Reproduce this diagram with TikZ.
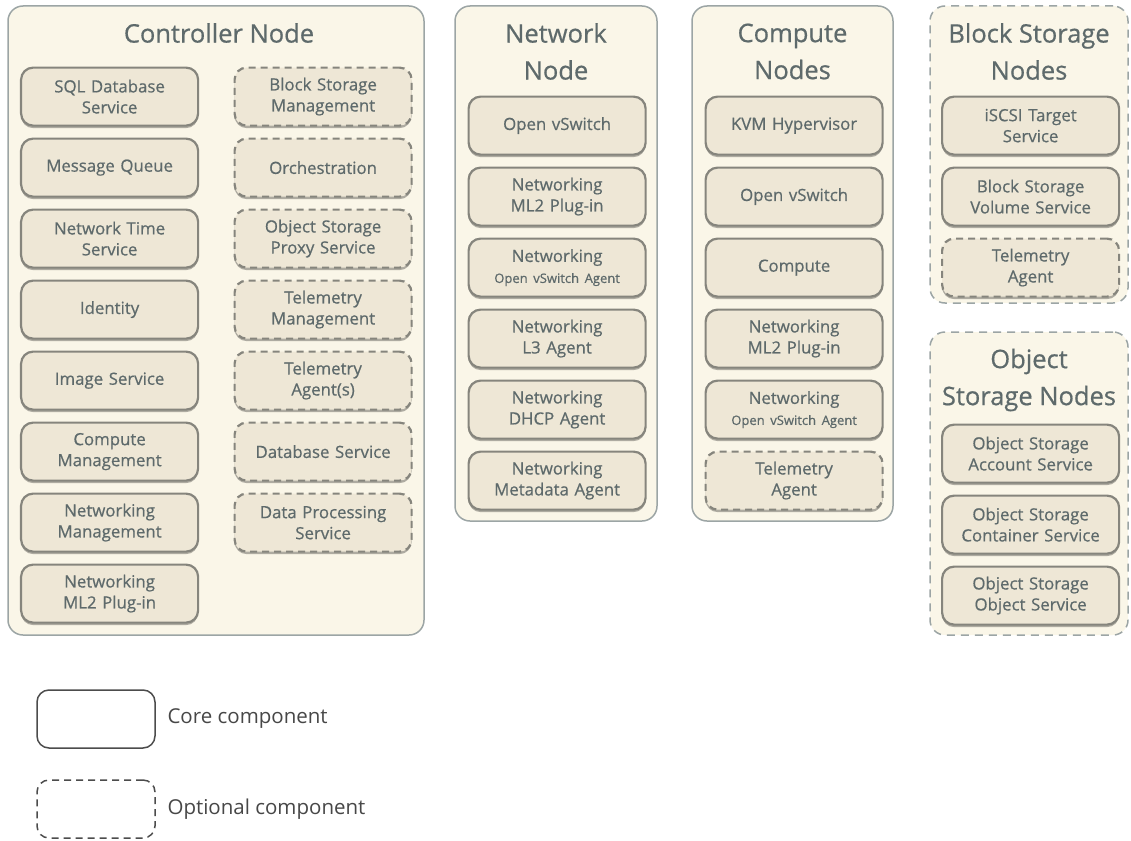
\documentclass[tikz,border=0pt]{standalone}
\usepackage{fontspec}
\setmainfont{Open Sans}
\newfontfamily\semifont[FakeBold=0.6]{Open Sans}
\usepackage{tikz}
\usetikzlibrary{matrix,shadows}
\usepackage{xcolor}
\definecolor{hostfill}{HTML}{FAF6E8}
\definecolor{hostline}{HTML}{9CA5A5}
\definecolor{svcfill}{HTML}{EEE7D6}
\definecolor{svcline}{HTML}{86857D}
\definecolor{txtcol}{HTML}{5E6A6B}
\newcommand{\smallline}{\fontsize{13}{15}\selectfont}

\tikzset{
  host/.style={draw=hostline, line width=1.5pt, fill=hostfill, rounded corners=15pt,
    anchor=north west, inner sep=0pt, outer sep=0pt},
  opthost/.style={host, dash pattern=on 8pt off 6pt},
  hosttitle/.style={text=txtcol, font=\semifont\fontsize{25.5}{37}\selectfont, align=center},
  svc/.style={draw=svcline, line width=2.2pt, fill=svcfill, rounded corners=12pt,
    minimum width=177pt, minimum height=58pt, text width=172pt, align=center,
    inner sep=0pt, anchor=center, text=txtcol, font=\semifont\fontsize{16.8}{21}\selectfont,
    drop shadow={shadow xshift=0pt, shadow yshift=-2.5pt, fill=black, opacity=0.3}},
  optsvc/.style={dash pattern=on 7pt off 5pt},
  svcgrid/.style={matrix of nodes, nodes={svc}, inner sep=0pt, outer sep=0pt,
    anchor=north west, row sep={71pt,between origins}},
  legendbox/.style={draw=black!70, line width=1.5pt, rounded corners=12pt,
    minimum width=118pt, minimum height=58pt, anchor=north west, inner sep=0pt, outer sep=0pt},
  legendtext/.style={anchor=west, text=black!72, font=\fontsize{20.5}{24}\selectfont}
}

\begin{document}
\begin{tikzpicture}[x=1pt,y=-1pt]
        \useasboundingbox (0,0) rectangle (1131,840);

        % host boxes
        \node[host, minimum width=416pt, minimum height=629pt] (ctrl) at (8,6) {};
        \node[host, minimum width=202pt, minimum height=515pt] (net) at (455,6) {};
        \node[host, minimum width=201pt, minimum height=515pt] (comp) at (692,6) {};
        \node[opthost, minimum width=198pt, minimum height=297pt] (blk) at (930,6) {};
        \node[opthost, minimum width=198pt, minimum height=303pt] (obj) at (930,332) {};

        \node[hosttitle] (ctrl-t) at (219,33) {Controller Node};
        \node[hosttitle] (net-t) at (556,51.5) {Network\\Node};
        \node[hosttitle] (comp-t) at (792.5,51.5) {Compute\\Nodes};
        \node[hosttitle] (blk-t) at (1029,51.5) {Block Storage\\Nodes};
        \node[hosttitle] (obj-t) at (1029,380) {Object\\Storage Nodes};

        % services
        \matrix (cm) [svcgrid, column sep={213.5pt,between origins}] at (20,66.5)
        {
         {SQL Database\\Service}        & |[optsvc]| {Block Storage\\Management}  \\
         Message Queue                  & |[optsvc]| Orchestration               \\
         {Network Time\\Service}        & |[optsvc]| {Object Storage\\Proxy Service} \\
         Identity                       & |[optsvc]| {Telemetry\\Management}     \\
         Image Service                  & |[optsvc]| {Telemetry\\Agent(s)}       \\
         {Compute\\Management}          & |[optsvc]| Database Service            \\
         {Networking\\Management}       & |[optsvc]| {Data Processing\\Service}  \\
         {Networking\\ML2 Plug-in}      &                                        \\
        };

        \matrix (nm) [svcgrid] at (467.5,95.5)
        {
         Open vSwitch                                  \\
         {Networking\\ML2 Plug-in}                     \\
         {Networking\\\smallline Open vSwitch Agent}   \\
         {Networking\\L3 Agent}                        \\
         {Networking\\DHCP Agent}                      \\
         {Networking\\Metadata Agent}                  \\
        };

        \matrix (km) [svcgrid] at (704.5,95.5)
        {
         KVM Hypervisor                                \\
         Open vSwitch                                  \\
         Compute                                       \\
         {Networking\\ML2 Plug-in}                     \\
         {Networking\\\smallline Open vSwitch Agent}   \\
         |[optsvc]| {Telemetry\\Agent}                 \\
        };

        \matrix (bm) [svcgrid] at (941,95.5)
        {
         {iSCSI Target\\Service}                       \\
         {Block Storage\\Volume Service}               \\
         |[optsvc]| {Telemetry\\Agent}                 \\
        };

        \matrix (om) [svcgrid] at (941,423.5)
        {
         {Object Storage\\Account Service}             \\
         {Object Storage\\Container Service}           \\
         {Object Storage\\Object Service}              \\
        };

        % legend
        \node[legendbox] (core) at (37,690) {};
        \node[legendtext] (core-l) at (164,719) {Core component};
        \node[legendbox, dash pattern=on 7pt off 5pt] (opt) at (37,780) {};
        \node[legendtext] (opt-l) at (164,809) {Optional component};
\end{tikzpicture}
\end{document}
